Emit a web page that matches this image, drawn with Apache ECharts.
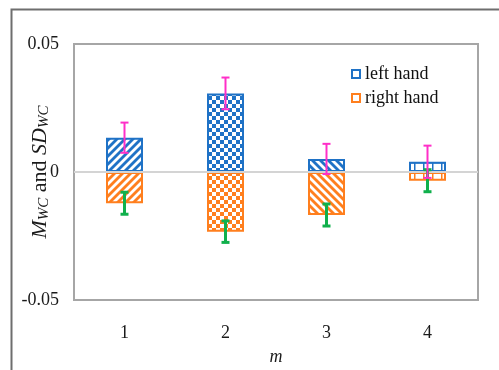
<!DOCTYPE html>
<html>
<head>
<meta charset="utf-8">
<script src="https://cdn.jsdelivr.net/npm/echarts@6/dist/echarts.min.js"></script>
<style>
  html, body { margin: 0; padding: 0; background: #fff; }
  #chart { width: 499px; height: 370px; }
</style>
</head>
<body>
<div id="chart"></div>
<script>
// Window-count values m = 1..4, mean and SD for each hand
const categories = ['1', '2', '3', '4'];
const leftMean  = [0.0134, 0.0307, 0.0051, 0.0040];
const leftSD    = [0.0059, 0.0062, 0.0059, 0.0063];
const rightMean = [-0.0122, -0.0233, -0.0168, -0.0034];
const rightSD   = [0.0043, 0.0042, 0.0043, 0.0043];
const yTicks = [-0.05, 0, 0.05];

const BLUE = '#1f72c6';
const ORANGE = '#ff7f1e';
const PINK = '#ff2fc8';
const GREEN = '#10b04c';
const FONT = "'Liberation Serif', 'Times New Roman', serif";

// Fill patterns, one per m
const patternKinds = ['upDiag', 'checker', 'downDiag', 'grid'];

function makePattern(kind, color) {
  const c = document.createElement('canvas');
  const n = kind === 'grid' ? 9 : 8;
  c.width = n; c.height = n;
  const g = c.getContext('2d');
  g.fillStyle = '#fff';
  g.fillRect(0, 0, n, n);
  g.strokeStyle = color;
  g.fillStyle = color;
  if (kind === 'upDiag' || kind === 'downDiag') {
    g.lineWidth = 2.8;
    for (const o of [-n, 0, n]) {
      g.beginPath();
      if (kind === 'upDiag') {
        g.moveTo(o - 1, n + 1); g.lineTo(o + n + 1, -1);
      } else {
        g.moveTo(o - 1, -1); g.lineTo(o + n + 1, n + 1);
      }
      g.stroke();
    }
  } else if (kind === 'checker') {
    g.fillRect(0, 0, n / 2, n / 2);
    g.fillRect(n / 2, n / 2, n / 2, n / 2);
  } else {
    g.fillRect(0, 0, 1.5, n);
    g.fillRect(0, 0, n, 1.5);
  }
  return { image: c, repeat: 'repeat' };
}

function barData(values, color) {
  return values.map((v, i) => ({
    value: v,
    itemStyle: { color: makePattern(patternKinds[i], color) }
  }));
}

function errorSeries(means, sds, color, width, capHalf) {
  return {
    type: 'custom',
    z: 4,
    silent: true,
    data: means.map((m, i) => [i, m, sds[i]]),
    encode: { x: 0, y: 1 },
    renderItem: function (params, api) {
      const x = api.value(0), m = api.value(1), s = api.value(2);
      const top = api.coord([x, m + s]);
      const bot = api.coord([x, m - s]);
      const style = { stroke: color, lineWidth: width, fill: null };
      return {
        type: 'group',
        children: [
          { type: 'line', shape: { x1: top[0], y1: top[1], x2: bot[0], y2: bot[1] }, style },
          { type: 'line', shape: { x1: top[0] - capHalf, y1: top[1], x2: top[0] + capHalf, y2: top[1] }, style },
          { type: 'line', shape: { x1: bot[0] - capHalf, y1: bot[1], x2: bot[0] + capHalf, y2: bot[1] }, style }
        ]
      };
    }
  };
}

const chart = echarts.init(document.getElementById('chart'), null, { renderer: 'canvas' });

chart.setOption({
  animation: false,
  backgroundColor: '#fff',
  textStyle: { fontFamily: FONT },
  graphic: [{
    type: 'polyline',
    shape: { points: [[11.5, 372], [11.5, 9.5], [502, 9.5]] },
    style: { stroke: '#6e6e6e', lineWidth: 2, fill: null },
    silent: true
  }],
  grid: {
    left: 74, right: 21, top: 44, bottom: 70,
    containLabel: false,
    outerBoundsMode: 'none',
    show: true, borderColor: '#a6a6a6', borderWidth: 2, backgroundColor: 'transparent'
  },
  legend: {
    orient: 'vertical',
    left: 351, top: 65,
    padding: 0,
    itemWidth: 8, itemHeight: 8, itemGap: 6,
    icon: 'rect',
    textStyle: { fontFamily: FONT, fontSize: 18, color: '#111', lineHeight: 18 },
    data: [
      { name: 'left hand', itemStyle: { color: '#fff', borderColor: BLUE, borderWidth: 2 } },
      { name: 'right hand', itemStyle: { color: '#fff', borderColor: ORANGE, borderWidth: 2 } }
    ]
  },
  xAxis: {
    type: 'category',
    data: categories,
    axisLine: { show: false, onZero: false },
    axisTick: { show: false },
    axisLabel: { fontFamily: FONT, fontSize: 18, color: '#1a1a1a', margin: 24 },
    name: 'm',
    nameLocation: 'middle',
    nameGap: 48,
    nameMoveOverlap: false,
    nameTextStyle: { fontFamily: FONT, fontSize: 18, fontStyle: 'italic', color: '#1a1a1a' }
  },
  yAxis: {
    type: 'value',
    min: yTicks[0], max: yTicks[2], interval: 0.05,
    axisLine: { show: false },
    axisTick: { show: false },
    splitLine: { show: false },
    axisLabel: {
      fontFamily: FONT, fontSize: 18, color: '#1a1a1a', margin: 15,
      formatter: v => (Math.abs(v) < 1e-9 ? '0' : v.toFixed(2))
    },
    name: '{it|M}{sub|WC}{rm| and }{it|SD}{sub|WC}',
    nameLocation: 'middle',
    nameRotate: 90,
    nameGap: 22,
    nameMoveOverlap: false,
    nameTextStyle: {
      rich: {
        it: { fontFamily: FONT, fontSize: 22, fontStyle: 'italic', color: '#1a1a1a', lineHeight: 24 },
        rm: { fontFamily: FONT, fontSize: 22, color: '#1a1a1a', lineHeight: 24 },
        sub: { fontFamily: FONT, fontSize: 15, fontStyle: 'italic', color: '#1a1a1a', lineHeight: 15, verticalAlign: 'bottom', padding: [7, 0, 0, 0] }
      }
    }
  },
  series: [
    {
      name: 'left hand',
      type: 'bar',
      barWidth: 37,
      barGap: '-100%',
      itemStyle: { color: BLUE, borderColor: BLUE, borderWidth: 2 },
      data: barData(leftMean, BLUE)
    },
    {
      name: 'right hand',
      type: 'bar',
      barWidth: 37,
      barGap: '-100%',
      itemStyle: { color: ORANGE, borderColor: ORANGE, borderWidth: 2 },
      data: barData(rightMean, ORANGE),
      markLine: {
        silent: true,
        symbol: 'none',
        z: 3,
        label: { show: false },
        lineStyle: { color: '#d4d4d4', width: 2, type: 'solid' },
        data: [{ yAxis: 0 }]
      }
    },
    errorSeries(rightMean, rightSD, GREEN, 3, 4),
    errorSeries(leftMean, leftSD, PINK, 2, 4)
  ]
});
</script>
</body>
</html>
